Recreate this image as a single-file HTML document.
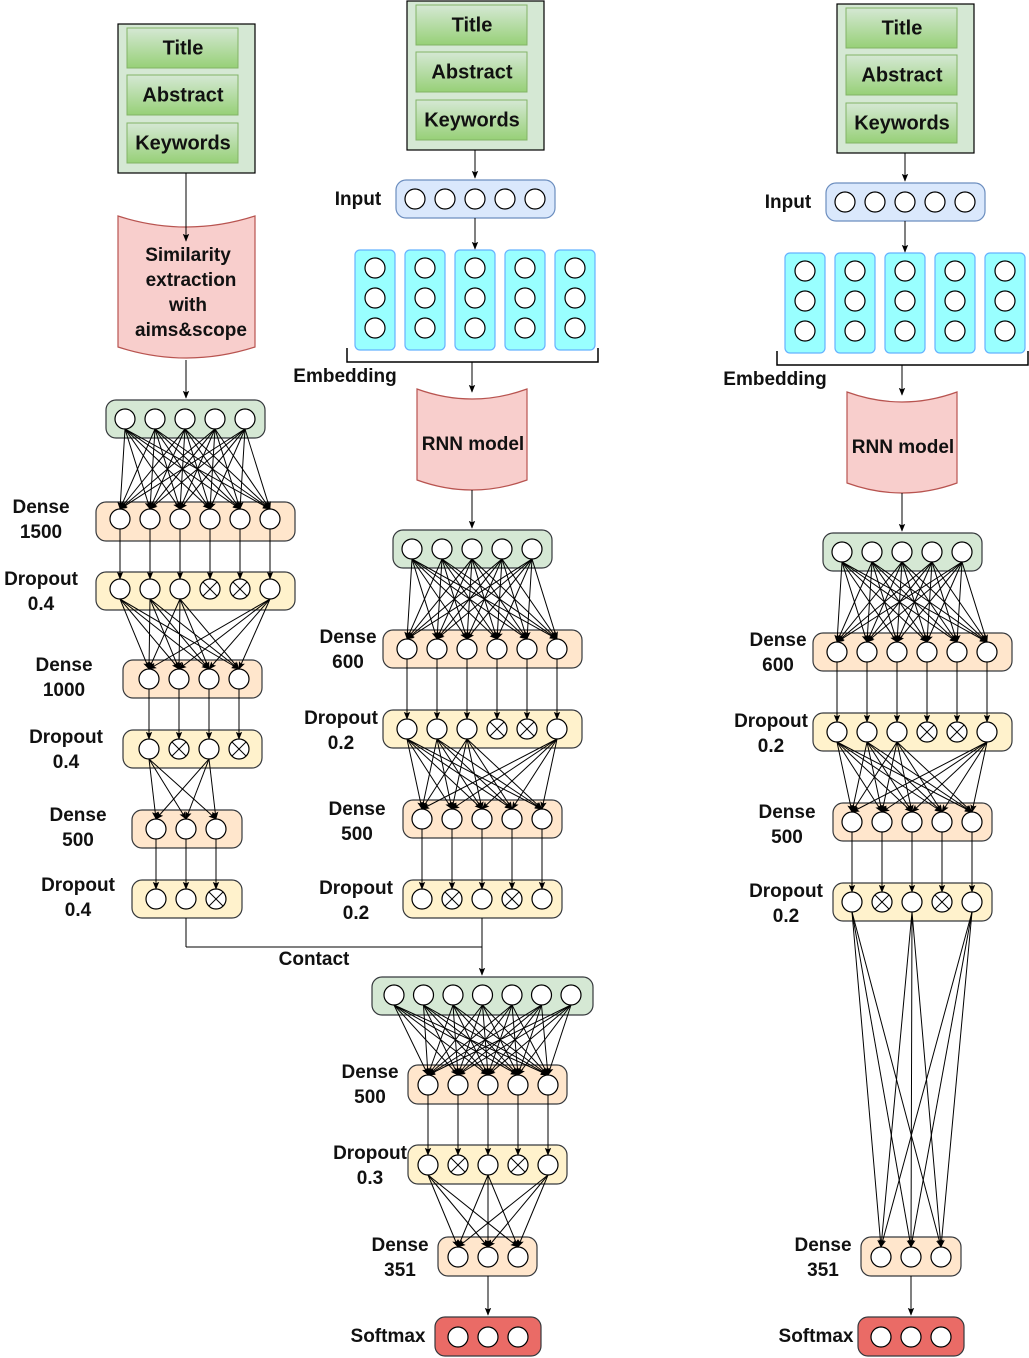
<!DOCTYPE html>
<html><head><meta charset="utf-8"><style>
html,body{margin:0;padding:0;background:#fff;width:1029px;height:1358px;overflow:hidden}
svg text{font-family:"Liberation Sans",Arial,sans-serif;font-weight:bold;fill:#111}
</style></head><body>
<svg id="s" xmlns="http://www.w3.org/2000/svg" width="1029" height="1358" viewBox="0 0 1029 1358">
<defs>
<marker id="a" viewBox="0 0 10 10" refX="9" refY="5" markerWidth="8" markerHeight="8" markerUnits="userSpaceOnUse" orient="auto"><path d="M0,1 L10,5 L0,9 L2,5 z" fill="#000"/></marker>
<linearGradient id="g" x1="0" y1="0" x2="0" y2="1"><stop offset="0" stop-color="#d5e8d4"/><stop offset="1" stop-color="#97d077"/></linearGradient>
</defs>
<g id="R"></g><g id="L"></g><g id="S"></g>
</svg>
<script>
var Rs='',Ls='',Ss='';
function ln(x1,y1,x2,y2,arr){Ls+='<line x1="'+x1+'" y1="'+y1+'" x2="'+x2+'" y2="'+y2+'" stroke="#000" stroke-width="1"'+(arr?' marker-end="url(#a)"':'')+'/>';}
function rect(x,y,w,h,fill,stroke,r){Rs+='<rect x="'+x+'" y="'+y+'" width="'+w+'" height="'+h+'" rx="'+(r||0)+'" fill="'+fill+'" stroke="'+stroke+'" stroke-width="1.2"/>';}
function txt(x,y,t,sz){Ss+='<text x="'+x+'" y="'+y+'" font-size="'+(sz||19)+'" text-anchor="middle" dominant-baseline="middle">'+t+'</text>';}
function circ(x,y,cross){Ss+='<circle cx="'+x+'" cy="'+y+'" r="10" fill="#fff" stroke="#000" stroke-width="1.2"/>';
 if(cross){var d=7;Ss+='<line x1="'+(x-d)+'" y1="'+(y-d)+'" x2="'+(x+d)+'" y2="'+(y+d)+'" stroke="#000"/><line x1="'+(x+d)+'" y1="'+(y-d)+'" x2="'+(x-d)+'" y2="'+(y+d)+'" stroke="#000"/>';}}
var colors={g:['#d5e8d4','#36393d'],d:['#ffe6cc','#36393d'],o:['#fff2cc','#36393d'],s:['#ea6b66','#36393d'],i:['#dae8fc','#6c8ebf']};
function layer(x,y,w,h,kind,xs,cy,crosses){var c=colors[kind];rect(x,y,w,h,c[0],c[1],10);crosses=crosses||[];
 xs.forEach(function(cx,i){circ(cx,cy,crosses.indexOf(i)>=0);});}
function full(src,sy,dst,dy){src.forEach(function(a){dst.forEach(function(b){ln(a,sy+10,b,dy-10,true);});});}
function vert(xs,sy,dy){xs.forEach(function(a){ln(a,sy+10,a,dy-10,true);});}
function doc(x1,x2,yt,yb,dip){var m=(x1+x2)/2;
 Rs+='<path d="M'+x1+','+yt+' Q'+m+','+(yt+2*dip)+' '+x2+','+yt+' L'+x2+','+(yb-dip)+' Q'+m+','+(yb+dip)+' '+x1+','+(yb-dip)+' Z" fill="#f8cecc" stroke="#b85450" stroke-width="1.2"/>';}
function textbox(x,y){rect(x,y,137,149,'#d5e8d4','#000',0);
 [['Title',4],['Abstract',51],['Keywords',99]].forEach(function(p){Rs+='<rect x="'+(x+9)+'" y="'+(y+p[1])+'" width="111" height="40" fill="url(#g)" stroke="#82b366" stroke-width="1"/>';txt(x+65,y+p[1]+21,p[0],20);});}
function seq(n,s,st){var a=[];for(var i=0;i<n;i++)a.push(s+i*st);return a;}
function lbl(x,y,a,b){txt(x,y,a);txt(x,y+25,b);}

textbox(118,24);
ln(186,173,186,241,true);
doc(118,255,216,358,11);
txt(188,256,'Similarity');txt(191,281,'extraction');txt(188,306,'with');txt(191,331,'aims&amp;scope');
ln(186,360,186,398,true);
var g1=seq(5,125,30),d1=seq(6,120,30),d2=seq(4,149,30),d3=seq(3,156,30);
layer(106,400,159,38,'g',g1,419);
layer(96,502,199,39,'d',d1,519);lbl(41,508,'Dense','1500');
full(g1,419,d1,519);
layer(96,572,199,38,'o',d1,589,[3,4]);lbl(41,580,'Dropout','0.4');
vert(d1,519,589);
layer(123,660,139,38,'d',d2,679);lbl(64,666,'Dense','1000');
full([120,150,180,270],589,d2,679);
layer(123,730,139,38,'o',d2,749,[1,3]);lbl(66,738,'Dropout','0.4');
vert(d2,679,749);
layer(132,810,110,38,'d',d3,829);lbl(78,816,'Dense','500');
full([149,209],749,d3,829);
layer(132,880,110,38,'o',d3,899,[2]);lbl(78,886,'Dropout','0.4');
vert(d3,829,899);
ln(186,918,186,947);ln(186,947,482,947);
txt(314,960,'Contact');

function rnnCol(dx,dy){
 var X=function(v){return v+dx;},Y=function(v){return v+dy;};
 textbox(X(407),Y(1));
 ln(X(475),Y(150),X(475),Y(178),true);
 var ic=seq(5,X(415),30);
 layer(X(396),Y(180),159,38,'i',ic,Y(199));
 txt(X(358),Y(200),'Input');
 ln(X(475),Y(218),X(475),Y(249),true);
 for(var i=0;i<5;i++){var ex=X(355+i*50);rect(ex,Y(250),40,100,'#99ffff','#66b2ff',5);[268,298,328].forEach(function(cy){circ(ex+20,Y(cy));});}
 Ls+='<polyline points="'+X(347)+','+Y(348)+' '+X(347)+','+Y(362)+' '+X(598)+','+Y(362)+' '+X(598)+','+Y(348)+'" fill="none" stroke="#000" stroke-width="1.5"/>';
 txt(X(345),Y(377),'Embedding');
 ln(X(472),Y(362),X(472),Y(392),true);
 doc(X(417),X(527),Y(389),Y(490),10);
 txt(X(473),Y(445),'RNN model');
 ln(X(472),Y(490),X(472),Y(528),true);
 var g=seq(5,X(412),30),a=seq(6,X(407),30),b=seq(5,X(422),30);
 layer(X(393),Y(530),159,38,'g',g,Y(549));
 layer(X(383),Y(630),199,38,'d',a,Y(649));lbl(X(348),Y(638),'Dense','600');
 full(g,Y(549),a,Y(649));
 layer(X(383),Y(710),199,38,'o',a,Y(729),[3,4]);lbl(X(341),Y(719),'Dropout','0.2');
 vert(a,Y(649),Y(729));
 layer(X(403),Y(800),159,38,'d',b,Y(819));lbl(X(357),Y(810),'Dense','500');
 full([a[0],a[1],a[2],a[5]],Y(729),b,Y(819));
 layer(X(403),Y(880),159,38,'o',b,Y(899),[1,3]);lbl(X(356),Y(889),'Dropout','0.2');
 vert(b,Y(819),Y(899));
 return b;
}
rnnCol(0,0);
ln(482,918,482,975,true);
var c7=seq(7,394,29.5),e5=seq(5,428,30),e3=seq(3,458,30);
layer(372,977,221,38,'g',c7,995);
layer(408,1065,159,39,'d',e5,1085);lbl(370,1073,'Dense','500');
full(c7,995,e5,1085);
layer(408,1145,159,39,'o',e5,1165,[1,3]);lbl(370,1154,'Dropout','0.3');
vert(e5,1085,1165);
layer(438,1237,99,39,'d',e3,1257);lbl(400,1246,'Dense','351');
full([428,488,548],1165,e3,1257);
ln(488,1276,488,1315,true);
layer(435,1317,106,39,'s',e3,1337);txt(388,1337,'Softmax');

var b3=rnnCol(430,3);
var f3=seq(3,881,30);
layer(861,1237,100,39,'d',f3,1257);lbl(823,1246,'Dense','351');
full([b3[0],b3[2],b3[4]],902,f3,1257);
ln(911,1276,911,1315,true);
layer(858,1317,106,39,'s',f3,1337);txt(816,1337,'Softmax');

document.getElementById('R').innerHTML=Rs;
document.getElementById('L').innerHTML=Ls;
document.getElementById('S').innerHTML=Ss;
</script>
</body></html>
